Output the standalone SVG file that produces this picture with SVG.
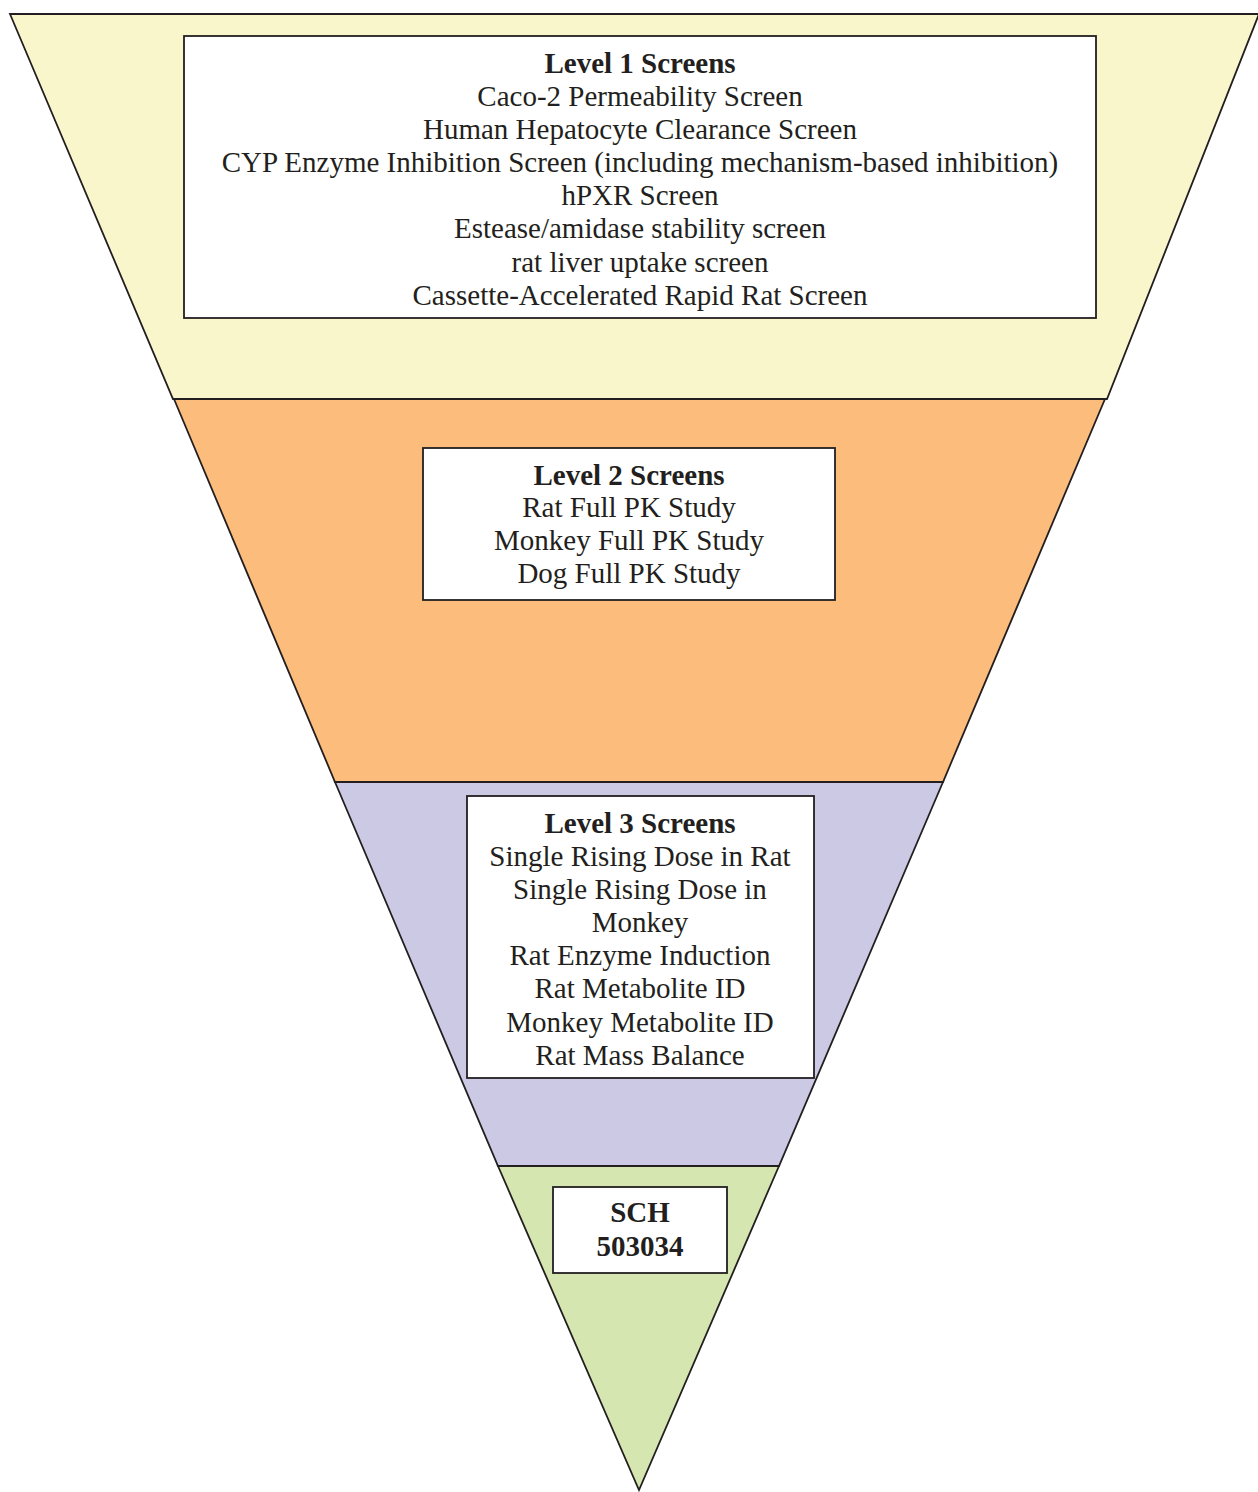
<svg xmlns="http://www.w3.org/2000/svg" width="1258" height="1492" viewBox="0 0 1258 1492">
<style>
.band{stroke:#231f20;stroke-width:1.8;stroke-linejoin:miter}
.box{fill:#ffffff;stroke:#231f20;stroke-width:1.8}
text{font-family:"Liberation Serif","Times New Roman",serif;font-size:29px;fill:#231f20;text-anchor:middle}
.b{font-weight:bold}
</style>
<rect width="1258" height="1492" fill="#ffffff"/>
<g id="bands">
<polygon id="band1" class="band" fill="#FAF6CC" points="10,14 1259,14 1107,399 173,399"/>
<polygon id="band2" class="band" fill="#FBBC7C" points="174,399 1105,399 943,782 335,782"/>
<polygon id="band3" class="band" fill="#CBC9E4" points="335,782 943,782 779,1166 498,1166"/>
<polygon id="band4" class="band" fill="#D6E6B0" points="498,1166 779,1166 639,1490"/>
</g>
<g id="level1">
<rect class="box" x="184" y="36" width="912" height="282"/>
<text class="b" x="640" y="73">Level 1 Screens</text>
<text x="640" y="106">Caco-2 Permeability Screen</text>
<text x="640" y="139">Human Hepatocyte Clearance Screen</text>
<text x="640" y="172">CYP Enzyme Inhibition Screen (including mechanism-based inhibition)</text>
<text x="640" y="205">hPXR Screen</text>
<text x="640" y="238">Estease/amidase stability screen</text>
<text x="640" y="272">rat liver uptake screen</text>
<text x="640" y="305">Cassette-Accelerated Rapid Rat Screen</text>
</g>
<g id="level2">
<rect class="box" x="423" y="448" width="412" height="152"/>
<text class="b" x="629" y="485">Level 2 Screens</text>
<text x="629" y="517">Rat Full PK Study</text>
<text x="629" y="550">Monkey Full PK Study</text>
<text x="629" y="583">Dog Full PK Study</text>
</g>
<g id="level3">
<rect class="box" x="467" y="796" width="347" height="282"/>
<text class="b" x="640" y="833">Level 3 Screens</text>
<text x="640" y="866">Single Rising Dose in Rat</text>
<text x="640" y="899">Single Rising Dose in</text>
<text x="640" y="932">Monkey</text>
<text x="640" y="965">Rat Enzyme Induction</text>
<text x="640" y="998">Rat Metabolite ID</text>
<text x="640" y="1032">Monkey Metabolite ID</text>
<text x="640" y="1065">Rat Mass Balance</text>
</g>
<g id="sch">
<rect class="box" x="553" y="1187" width="174" height="86"/>
<text class="b" x="640" y="1222">SCH</text>
<text class="b" x="640" y="1256">503034</text>
</g>
<g id="connectors"/>
</svg>
